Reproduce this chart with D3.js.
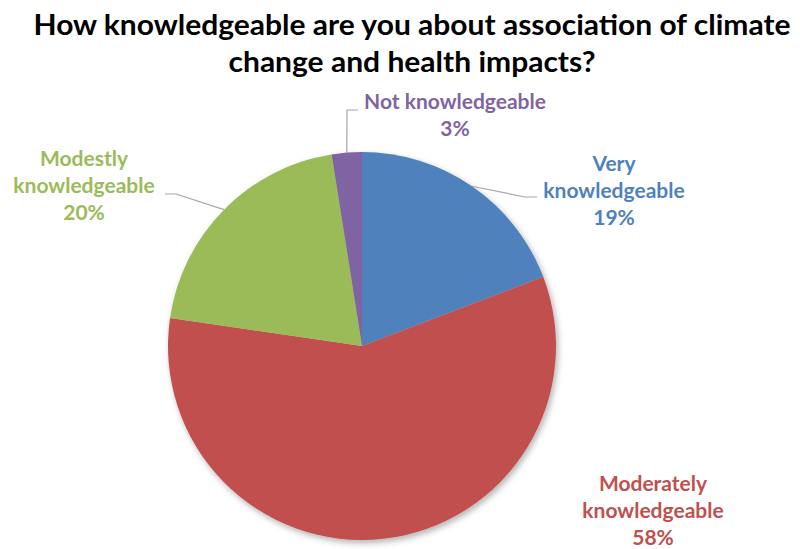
<!DOCTYPE html>
<html>
<head>
<meta charset="utf-8">
<script src="https://cdn.jsdelivr.net/npm/d3@7"></script>
<style>
  body { margin: 0; background: #fff; }
  text { font-family: Lato, 'Noto Sans', sans-serif; font-weight: 700; }
</style>
</head>
<body>
<div id="container"></div>
<script>
'use strict';

// chart values
const categories = ['Very knowledgeable', 'Moderately knowledgeable', 'Modestly knowledgeable', 'Not knowledgeable'];
const shares     = [19.2, 58.1, 20.2, 2.5];
const colors     = ['#4f81bd', '#c0504d', '#9bbb59', '#8064a2'];
const titleLines = ['How knowledgeable are you about association of climate', 'change and health impacts?'];

const canvas = { width: 800, height: 549 };
const pie_ = { cx: 362, cy: 346, r: 194 };

// where each data label sits (excel labels were dragged by hand)
const labelLayout = [
    { x: 614, y: 171, wrap: true,  leader: [[525, 197], [537, 197]] },
    { x: 653, y: 491, wrap: true,  leader: null },
    { x: 84,  y: 166, wrap: true,  leader: [[176, 194], [165, 194]] },
    { x: 455, y: 109, wrap: false, leader: [[347, 110], [358, 110]] }
];

const svg = d3.select('#container')
    .append('svg')
    .attr('width', canvas.width)
    .attr('height', canvas.height);

const defs = svg.append('defs');
defs.append('filter')
    .attr('id', 'shadow')
    .attr('x', '-10%').attr('y', '-10%')
    .attr('width', '120%').attr('height', '120%')
    .append('feDropShadow')
    .attr('dx', 2).attr('dy', 3)
    .attr('stdDeviation', 3)
    .attr('flood-color', '#000')
    .attr('flood-opacity', 0.3);

// title
const title = svg.append('g');
const titleWidths = [757, 367];
titleLines.forEach((t, i) => {
    title.append('text')
        .attr('x', canvas.width / 2 + 12)
        .attr('y', 35 + i * 37)
        .attr('text-anchor', 'middle')
        .attr('font-size', 28)
        .attr('fill', '#000')
        .attr('textLength', titleWidths[i])
        .attr('lengthAdjust', 'spacingAndGlyphs')
        .text(t);
});

const data = categories.map((c, i) => ({ name: c, value: shares[i], color: colors[i] }));

const pie = d3.pie()
    .sort(null)
    .value(d => d.value);

const arc = d3.arc()
    .innerRadius(0)
    .outerRadius(pie_.r);

const arcs = pie(data);

const g = svg.append('g')
    .attr('transform', `translate(${pie_.cx},${pie_.cy})`);

g.append('g')
    .attr('filter', 'url(#shadow)')
    .selectAll('path')
    .data(arcs)
    .enter()
    .append('path')
    .attr('d', arc)
    .attr('fill', d => d.data.color);

function edgePoint(d) {
    const a = (d.startAngle + d.endAngle) / 2;
    return [pie_.cx + pie_.r * Math.sin(a), pie_.cy - pie_.r * Math.cos(a)];
}

// leader lines
arcs.forEach((d, i) => {
    const lay = labelLayout[i];
    if (!lay.leader) return;
    const pts = [edgePoint(d)].concat(lay.leader);
    svg.append('path')
        .attr('d', d3.line()(pts))
        .attr('fill', 'none')
        .attr('stroke', '#a6a6a6')
        .attr('stroke-width', 1.2);
});

// data labels
arcs.forEach((d, i) => {
    const lay = labelLayout[i];
    let lines;
    if (lay.wrap) {
        const k = d.data.name.indexOf(' ');
        lines = [d.data.name.slice(0, k), d.data.name.slice(k + 1)];
    } else {
        lines = [d.data.name];
    }
    lines.push(Math.round(d.data.value) + '%');

    const t = svg.append('text')
        .attr('text-anchor', 'middle')
        .attr('font-size', 21)
        .attr('fill', d.data.color);
    lines.forEach((ln, j) => {
        t.append('tspan')
            .attr('x', lay.x)
            .attr('y', lay.y + j * 27)
            .text(ln);
    });
});
</script>
</body>
</html>
